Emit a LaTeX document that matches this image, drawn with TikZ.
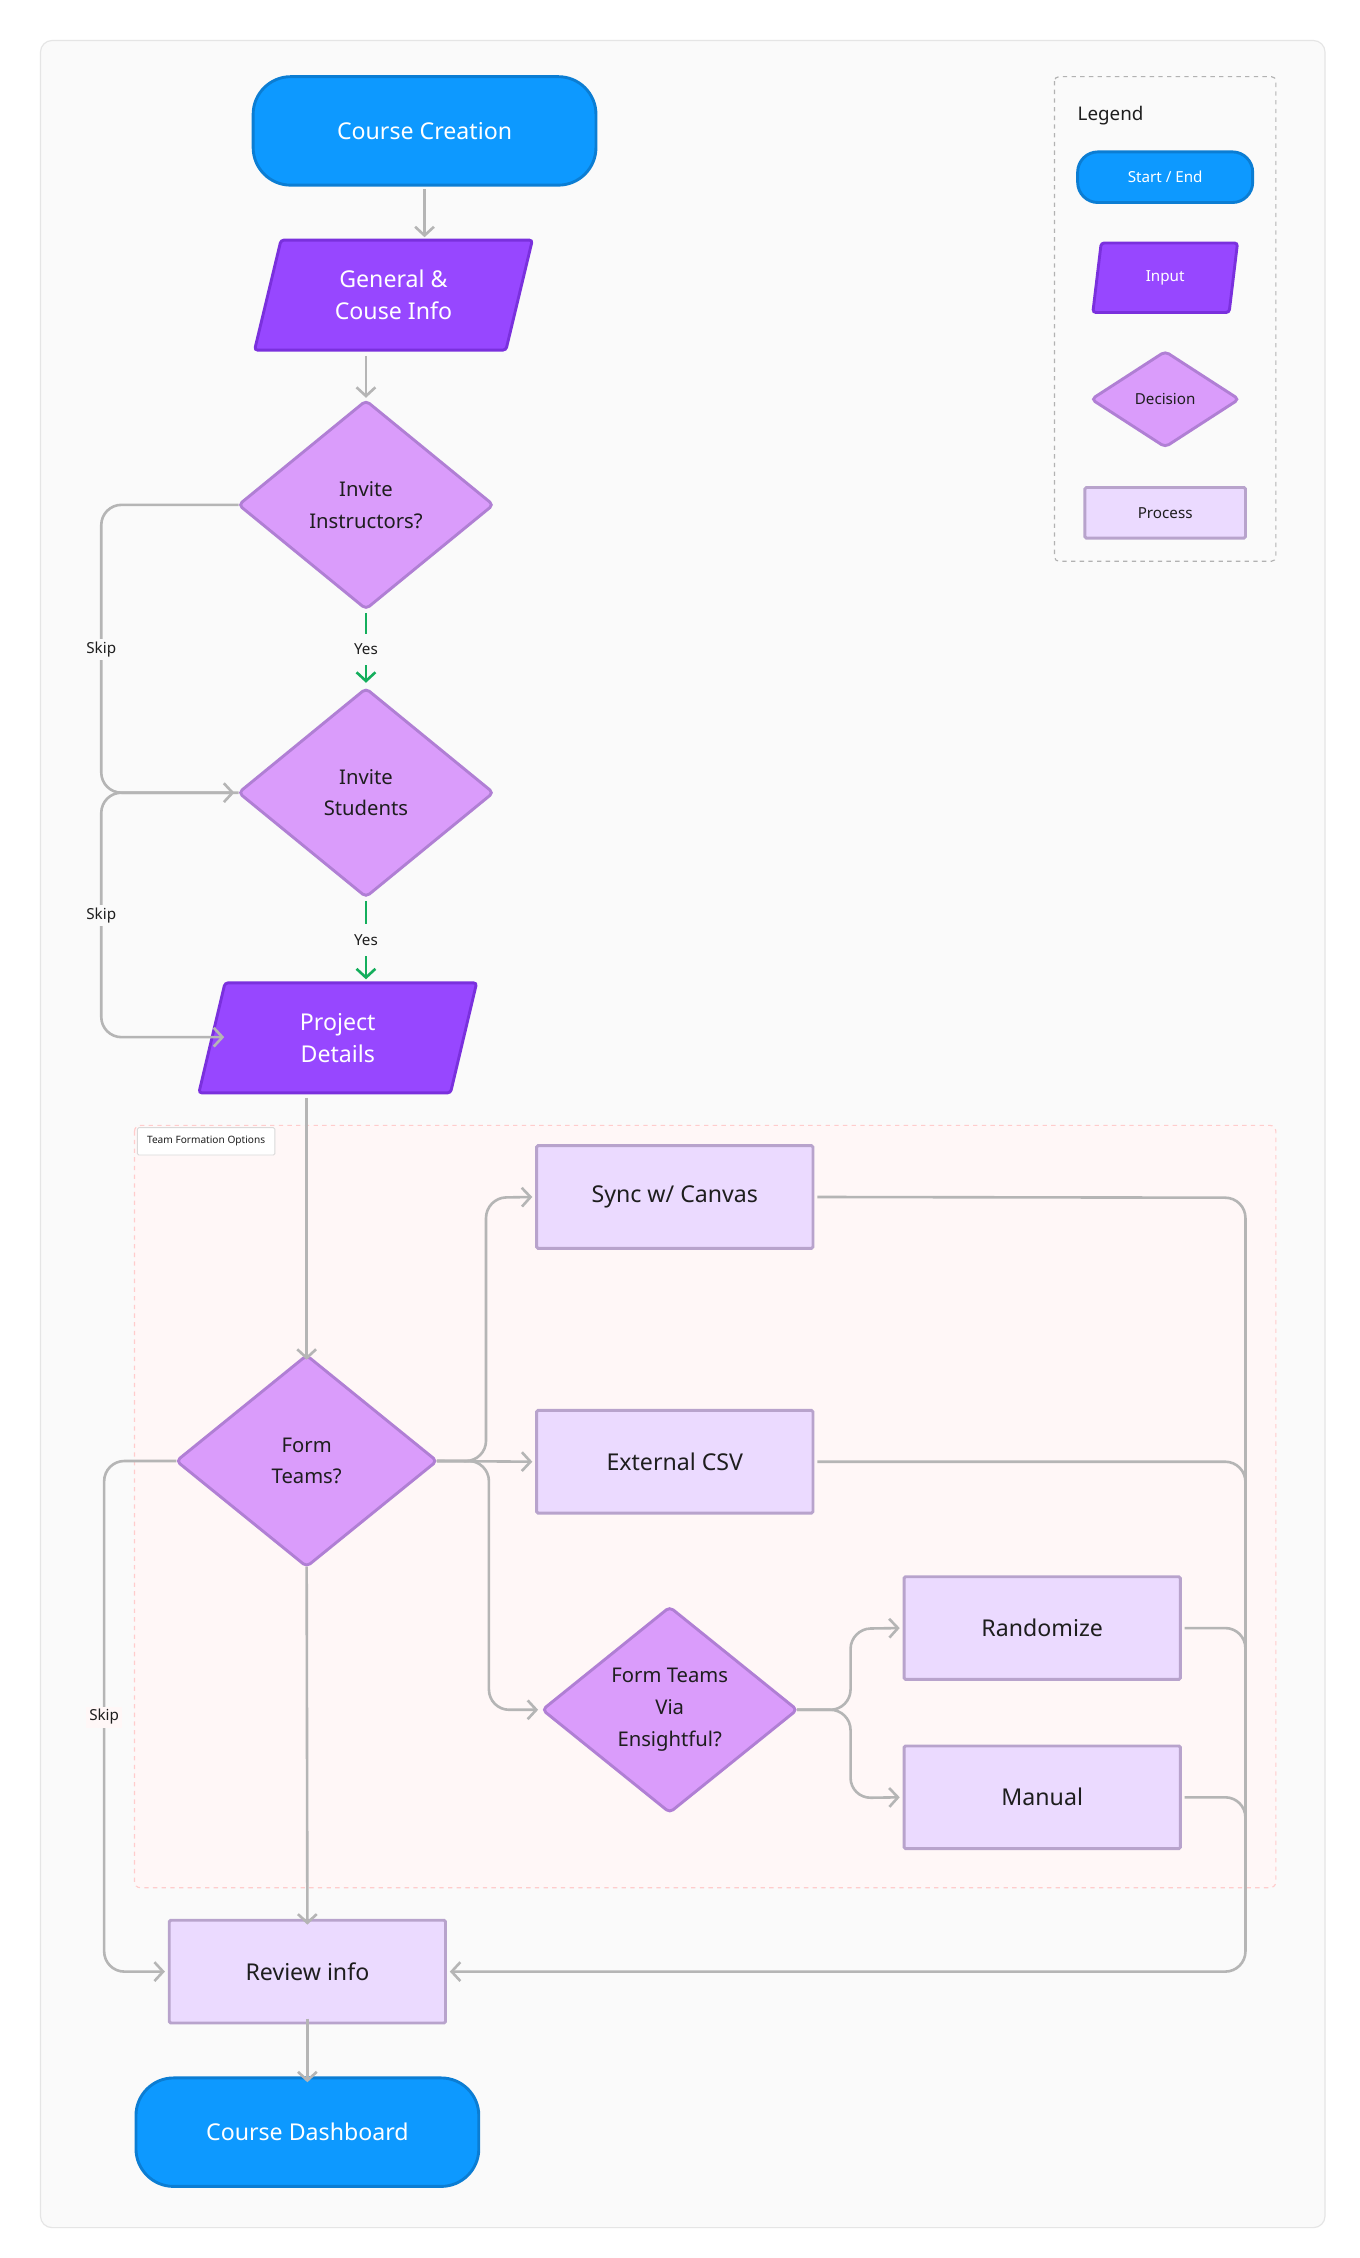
\documentclass[tikz,border=0pt]{standalone}
\usepackage{fontspec}
\setmainfont{Noto Sans}
\usetikzlibrary{shapes.geometric,arrows.meta,positioning}
\definecolor{bluef}{HTML}{0D99FF}\definecolor{blueb}{HTML}{0B7DD3}
\definecolor{inpf}{HTML}{9747FF}\definecolor{inpb}{HTML}{7A30DD}
\definecolor{decf}{HTML}{DA9CFB}\definecolor{decb}{HTML}{B07FD4}
\definecolor{prof}{HTML}{EBDAFF}\definecolor{prob}{HTML}{B8A3CC}
\definecolor{conn}{HTML}{B5B5B5}\definecolor{yes}{HTML}{14AE5C}
\definecolor{txt}{HTML}{1E1E1E}
\tikzset{
 every node/.style={inner sep=0pt,outer sep=0pt},
 startend/.style={rounded corners=26pt,fill=bluef,draw=blueb,line width=2pt,minimum width=237pt,minimum height=75pt,text=white,font=\fontsize{16}{19}\selectfont},
 input/.style={trapezium,trapezium left angle=62,trapezium right angle=118,trapezium stretches body,fill=inpf,draw=inpb,line width=2pt,rounded corners=2pt,minimum width=192pt,minimum height=76pt,text=white,align=center,font=\fontsize{16}{22}\selectfont},
 decision/.style={diamond,fill=decf,draw=decb,line width=2pt,rounded corners=3pt,minimum width=176pt,minimum height=144pt,text=txt,align=center,font=\fontsize{14}{22}\selectfont},
 process/.style={rectangle,fill=prof,draw=prob,line width=2pt,rounded corners=1pt,minimum width=191pt,minimum height=71pt,text=txt,font=\fontsize{16}{19}\selectfont},
 conn/.style={draw=conn,line width=1.8pt,rounded corners=14pt,-{Straight Barb[length=6pt,width=13pt,line width=1.8pt]}},
 plain/.style={draw=conn,line width=1.8pt,rounded corners=14pt},
 yesc/.style={draw=yes,line width=1.8pt,-{Straight Barb[length=6pt,width=13pt,line width=1.8pt]}},
 lbl/.style={fill=white!0,text=txt,font=\fontsize{10.5}{12}\selectfont},
}
\begin{document}
\begin{tikzpicture}[x=1pt,y=-1pt]
\useasboundingbox (0,0) rectangle (940,1561);
\fill[white] (0,0) rectangle (940,1561);
\draw[fill=black!2,draw=black!10,line width=0.8pt,rounded corners=8pt] (28,28) rectangle (916,1540);
% group
\draw[fill=red!3,draw=red!20,dashed,line width=0.8pt,rounded corners=4pt] (93,778) rectangle (882,1305);
\node[draw=black!15,fill=white,line width=0.6pt,rounded corners=1pt,minimum width=95pt,minimum height=19pt,font=\fontsize{7}{8}\selectfont,text=txt] (grp) at (142.5,789) {Team Formation Options};
% legend
\draw[draw=black!30,dashed,line width=0.8pt,rounded corners=3pt] (729,53) rectangle (882,388);
\node[anchor=west,font=\fontsize{13}{15}\selectfont,text=txt] (legt) at (745,80) {Legend};
\node[startend,minimum width=121pt,minimum height=35pt,rounded corners=14pt,font=\fontsize{10.5}{12}\selectfont] (lse) at (805.5,122.5) {Start / End};
\node[input,minimum width=100pt,minimum height=48pt,trapezium left angle=60,trapezium right angle=120,font=\fontsize{10.5}{12}\selectfont] (lin) at (805.5,192) {Input};
\node[decision,minimum width=102pt,minimum height=66pt,font=\fontsize{10.5}{12}\selectfont] (ldec) at (805.5,276) {Decision};
\node[process,minimum width=111pt,minimum height=35pt,font=\fontsize{10.5}{12}\selectfont] (lpro) at (805.5,354.5) {Process};
% main nodes
\node[startend] (cc) at (293.5,90.5) {Course Creation};
\node[input] (gen) at (272,204) {General \&\\Couse Info};
\node[decision] (ii) at (253,349) {Invite\\Instructors?};
\node[decision] (is) at (253,548) {Invite\\Students};
\node[input] (pd) at (233.5,717.5) {Project\\Details};
\node[process] (sync) at (466.5,827.5) {Sync w/ Canvas};
\node[process] (csv) at (466.5,1010.5) {External CSV};
\node[decision,minimum width=180pt,minimum height=146pt] (ft) at (212,1010) {Form\\Teams?};
\node[decision,minimum width=176pt,minimum height=142pt] (via) at (463,1182) {Form Teams\\Via\\Ensightful?};
\node[process] (rand) at (720.5,1125.5) {Randomize};
\node[process] (man) at (720.5,1242.5) {Manual};
\node[process] (rev) at (212.5,1363) {Review info};
\node[startend] (cd) at (212.5,1474) {Course Dashboard};
% connectors
\draw[conn] (cc.south) ++(0,3) -- ++(0,33);
\draw[conn] (253,246) -- (253,275);
\draw[conn] (ii.west) -- (70,349) -- (70,548) -- ([xshift=-3pt]is.west);
\node[lbl,fill=black!2,inner sep=2pt] (sk1) at (70,449) {Skip};
\draw[conn] (is.west) -- (70,548) -- (70,717) -- (155,717);
\node[lbl,fill=black!2,inner sep=2pt] (sk2) at (70,633) {Skip};
\draw[yesc] ([yshift=-3pt]ii.south) -- ([yshift=4pt]is.north);
\node[lbl,fill=black!2,inner sep=3pt,minimum height=22pt] (y1) at (253,449) {Yes};
\draw[yesc] ([yshift=-3pt]is.south) -- (253,677);
\node[lbl,fill=black!2,inner sep=3pt,minimum height=22pt] (y2) at (253,650) {Yes};
\draw[conn] (212,759) -- ([yshift=-3pt]ft.north);
\draw[conn] (ft.east) -- ([xshift=-3pt]csv.west);
\draw[conn] (ft.east) -- (336,1010) -- (336,828) -- ([xshift=-3pt]sync.west);
\draw[conn] (ft.east) -- (338,1010) -- (338,1182) -- ([xshift=-3pt]via.west);
\draw[conn] (via.east) -- (588,1182) -- (588,1126) -- ([xshift=-3pt]rand.west);
\draw[conn] (via.east) -- (588,1182) -- (588,1243) -- ([xshift=-3pt]man.west);
\draw[conn] ([xshift=3pt]sync.east) -- (861,828) -- (861,1363) -- ([xshift=3pt]rev.east);
\draw[plain] ([xshift=3pt]csv.east) -- (861,1010.5) -- (861,1060);
\draw[plain] ([xshift=3pt]rand.east) -- (861,1125.5) -- (861,1175);
\draw[plain] ([xshift=3pt]man.east) -- (861,1242.5) -- (861,1292);
\draw[conn] (ft.west) -- (72,1010) -- (72,1363) -- ([xshift=-3pt]rev.west);
\node[lbl,fill=red!3,inner sep=2pt] (sk3) at (72,1187) {Skip};
\draw[conn] (ft.south) -- ([yshift=-3pt]rev.north);
\draw[conn] ([yshift=3pt]rev.south) -- ([yshift=-3pt]cd.north);
\end{tikzpicture}
\end{document}
